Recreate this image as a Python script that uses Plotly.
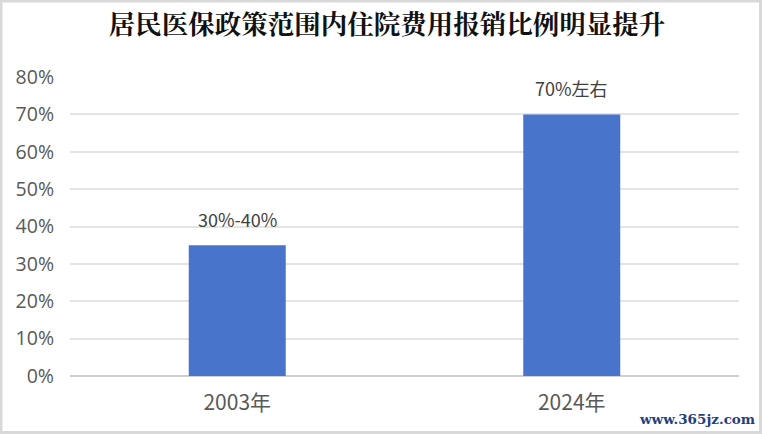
import plotly.graph_objects as go

W = 762
H = 434

# 数据
nian = ["2003年", "2024年"]
bili = [35, 70]
biaoqian = ["30%-40%", "70%左右"]
y_ticks = [0, 10, 20, 30, 40, 50, 60, 70, 80]
y_labels = ["0%", "10%", "20%", "30%", "40%", "50%", "60%", "70%", "80%"]

FONT = "Noto Sans CJK SC"

fig = go.Figure()
fig.add_trace(go.Bar(x=nian, y=bili, width=0.29, marker_color="#4874CB", marker_line_width=0, hoverinfo="skip"))

# 柱子上方的标签
for n, b, t in zip(nian, bili, biaoqian):
    fig.add_annotation(x=n, y=b, text=t, showarrow=False, yanchor="bottom", yshift=11,
                       font=dict(family=FONT, size=18, color="#404040"))

# 水印
fig.add_annotation(xref="paper", yref="paper", x=(757 - 70) / (W - 93), y=-(419 - 376) / (H - 135),
                   xanchor="right", yanchor="middle", text="<b>www.365jz.com</b>", showarrow=False,
                   font=dict(family="DejaVu Serif", size=13.5, color="#1F3F7F"))

# 外边框
fig.add_shape(type="rect", xref="paper", yref="paper", line=dict(color="#D9D9D9", width=3),
              x0=-(70 - 1) / (W - 93), x1=(760.5 - 70) / (W - 93),
              y0=-(432.5 - 376) / (H - 135), y1=(376 - 1) / (H - 135), layer="below")

fig.update_layout(
    width=W, height=H,
    margin=dict(l=70, r=23, t=77, b=58),
    paper_bgcolor="white", plot_bgcolor="white",
    showlegend=False,
    title=dict(text="<b>居民医保政策范围内住院费用报销比例明显提升</b>", x=387 / W, xanchor="center",
               y=1 - 25 / H, yanchor="middle", font=dict(family="Noto Serif CJK SC, " + FONT, size=26.5, color="#111111")),
)
fig.update_xaxes(showline=False, ticks="", showgrid=False,
                 tickfont=dict(family=FONT, size=21, color="#595959"), ticklabelstandoff=12)
fig.update_yaxes(range=[0, 80], tickvals=y_ticks, ticktext=y_labels, showgrid=True, gridcolor="#E4E4E4",
                 gridwidth=2, zeroline=True, zerolinecolor="#D0D0D0", zerolinewidth=2, ticks="", ticklabelstandoff=15,
                 tickfont=dict(family="Open Sans, " + FONT, size=19.5, color="#595959"))

# 去掉页面默认边距
fig.write_html("out.html", config={"displayModeBar": False},
               post_script="document.body.style.margin='0';document.documentElement.style.overflow='hidden';")
